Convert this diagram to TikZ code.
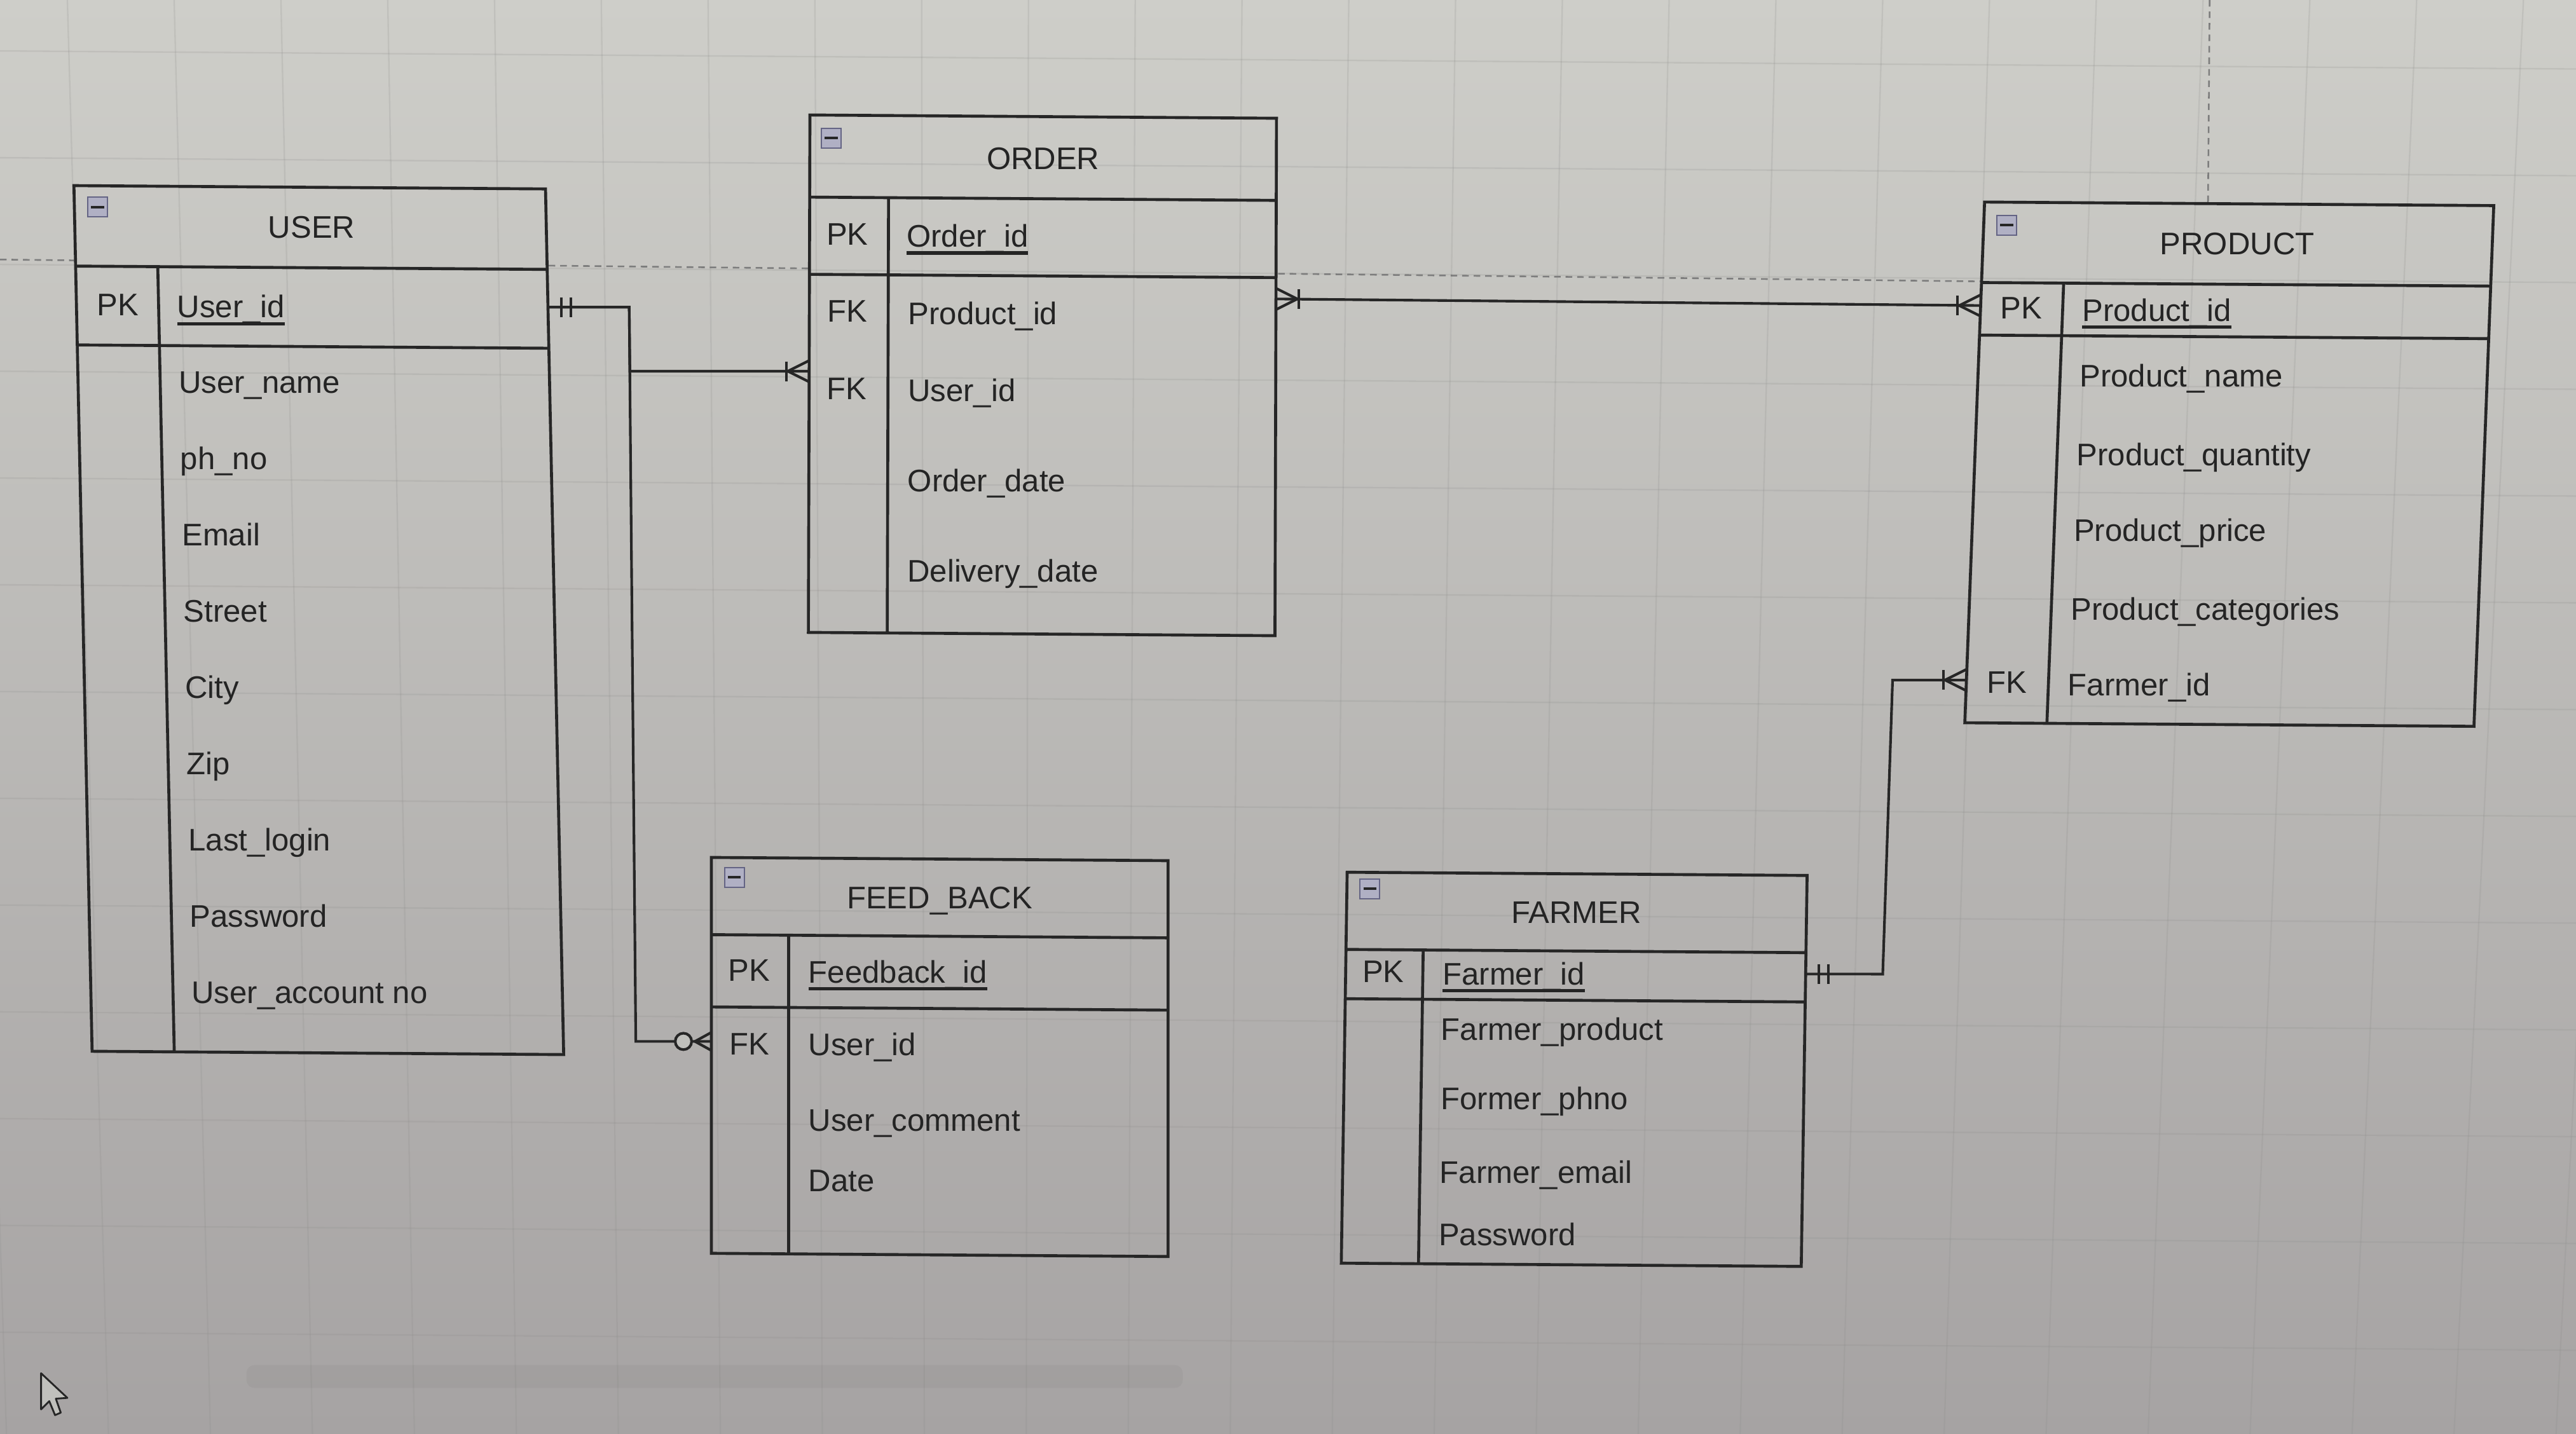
\documentclass[tikz,border=0pt]{standalone}
\usepackage{fontspec}
\setmainfont{Liberation Sans}
\usetikzlibrary{calc}

\definecolor{bgtop}{RGB}{206,206,201}
\definecolor{bgmid}{RGB}{192,192,188}
\definecolor{bgbot}{RGB}{166,163,163}
\definecolor{linec}{RGB}{38,38,38}
\definecolor{txtc}{RGB}{36,36,36}
\definecolor{gridc}{RGB}{140,140,138}
\definecolor{pagec}{RGB}{125,125,125}
\definecolor{iconedge}{RGB}{100,100,132}
\definecolor{iconfill}{RGB}{176,176,196}

\newcommand\fieldfont{\fontsize{19}{23}\selectfont}
% primary-key name: text with a rule just under the baseline
\newcommand\keyname[1]{\setbox0\hbox{#1}\rlap{\vrule width\wd0 height -2.6pt depth 4.6pt}\box0}

\tikzset{
  tbl/.style={draw=linec, line width=1.8pt},
  conn/.style={draw=linec, line width=1.6pt},
  attr/.style={anchor=base west, inner sep=0pt, text=txtc, font=\fieldfont},
  keyc/.style={anchor=base, inner sep=0pt, text=txtc, font=\fieldfont},
  ttl/.style={anchor=base, inner sep=0pt, text=txtc, font=\fieldfont},
  gridline/.style={draw=gridc, opacity=0.2, line width=0.9pt},
  pageline/.style={draw=pagec, line width=1pt, dash pattern=on 4pt off 3pt},
  % collapse box in the table header
  tblicon/.pic={
    \draw[draw=iconedge, fill=iconfill, line width=0.8pt] (-6,-6) rectangle (6,6);
    \draw[draw=linec, line width=1.5pt] (-4,0) -- (4,0);
  },
  % one-or-many end; the entity lies on the +x side
  manyone/.pic={
    \draw[conn] (-13,0) -- (0,-6.5) (-13,0) -- (0,6.5);
    \draw[conn] (-14,-6) -- (-14,6);
  },
  % zero-or-many end; the entity lies on the +x side
  zeromany/.pic={
    \draw[conn] (-10,0) -- (0,-5.5) (-10,0) -- (0,5.5);
    \draw[conn, fill=bgmid] (-17,0) circle (5);
  },
  % exactly-one end; the entity lies on the -x side
  oneone/.pic={
    \draw[conn] (8,-6) -- (8,6) (14,-6) -- (14,6);
  }
}

\begin{document}
\begin{tikzpicture}[x=1pt,y=-1pt]
\useasboundingbox (0,0) rectangle (1568,873);

% canvas background and grid
\shade[top color=bgtop, middle color=bgmid, bottom color=bgbot] (0,0) rectangle (1568,873);
\foreach \gx in {-24,41,...,1640}
  \draw[gridline] (\gx,0) -- ({\gx-0.045*(\gx-597)},873);
\foreach \gy in {31,96,...,900}
  \draw[gridline] (0,\gy) -- (1568,\gy+11);

% page break guides
\draw[pageline] (0,158) -- (45,158.5);
\draw[pageline] (334,161.7) -- (492,163.4);
\draw[pageline] (778,166.6) -- (1206,171.3);
\draw[pageline] (1345,0) -- (1344,123);

% scroll bar
\fill[black, opacity=0.035, rounded corners=5pt] (150,831) rectangle (720,845);

% ---------------- USER ----------------
\begin{scope}[shift={(45,113)}, xslant=-0.021, yslant=-0.007]
  \draw[tbl] (0,0) rectangle (287,527);
  \draw[tbl] (0,49) -- (287,49) (0,97) -- (287,97) (50,49) -- (50,527);
  \pic at (14,13) {tblicon};
  \node[ttl] (user-title) at (144,31) {USER};
  \node[keyc] (user-pk) at (25,79) {PK};
  \node[attr] (user-id) at (61,80) {\keyname{User\_id}};
  \foreach \t [count=\i] in {User\_name, ph\_no, Email, Street, City, Zip, Last\_login, Password, User\_account no}
    \node[attr] (user-a\i) at (61,{126+46.4*(\i-1)}) {\t};
  \coordinate (user-pk-e) at (287,72);
\end{scope}

% ---------------- ORDER ----------------
\begin{scope}[shift={(493,70)}, xslant=0.003, yslant=-0.007]
  \draw[tbl] (0,0) rectangle (284,315);
  \draw[tbl] (0,50) -- (284,50) (0,97) -- (284,97) (48,50) -- (48,315);
  \pic at (13,14) {tblicon};
  \node[ttl] (order-title) at (142,32) {ORDER};
  \node[keyc] (order-pk) at (23,79) {PK};
  \node[attr] (order-id) at (59,80) {\keyname{Order\_id}};
  \node[keyc] (order-fk1) at (23,126) {FK};
  \node[attr] (order-prod) at (60,127) {Product\_id};
  \node[keyc] (order-fk2) at (23,173) {FK};
  \node[attr] (order-user) at (60,174) {User\_id};
  \node[attr] (order-date) at (60,229) {Order\_date};
  \node[attr] (order-deliv) at (60,284) {Delivery\_date};
  \coordinate (order-fk2-w) at (0,156);
  \coordinate (order-fk1-e) at (284,110);
\end{scope}

% ---------------- PRODUCT ----------------
\begin{scope}[shift={(1208,123)}, xslant=0.038, yslant=-0.007]
  \draw[tbl] (0,0) rectangle (310,317);
  \draw[tbl] (0,49) -- (310,49) (0,81) -- (310,81) (50,49) -- (50,317);
  \pic at (14,14) {tblicon};
  \node[ttl] (product-title) at (155,31) {PRODUCT};
  \node[keyc] (product-pk) at (25,71) {PK};
  \node[attr] (product-id) at (62,72) {\keyname{Product\_id}};
  \node[attr] (product-name) at (62,112) {Product\_name};
  \node[attr] (product-qty) at (62,160) {Product\_quantity};
  \node[attr] (product-price) at (62,206) {Product\_price};
  \node[attr] (product-cat) at (62,254) {Product\_categories};
  \node[keyc] (product-fk) at (25,299) {FK};
  \node[attr] (product-farmer) at (62,300) {Farmer\_id};
  \coordinate (product-pk-w) at (0,63);
  \coordinate (product-fk-w) at (0,291);
\end{scope}

% ---------------- FEED_BACK ----------------
\begin{scope}[shift={(433,522)}, yslant=-0.007]
  \draw[tbl] (0,0) rectangle (278,241);
  \draw[tbl] (0,47) -- (278,47) (0,91) -- (278,91) (47,47) -- (47,241);
  \pic at (14,12) {tblicon};
  \node[ttl] (feedback-title) at (139,30) {FEED\_BACK};
  \node[keyc] (feedback-pk) at (23,75) {PK};
  \node[attr] (feedback-id) at (59,76) {\keyname{Feedback\_id}};
  \node[keyc] (feedback-fk) at (23,120) {FK};
  \node[attr] (feedback-user) at (59,120) {User\_id};
  \node[attr] (feedback-comment) at (59,166) {User\_comment};
  \node[attr] (feedback-date) at (59,203) {Date};
  \coordinate (feedback-fk-w) at (0,112);
\end{scope}

% ---------------- FARMER ----------------
\begin{scope}[shift={(820,531)}, xslant=0.015, yslant=-0.007]
  \draw[tbl] (0,0) rectangle (280,238);
  \draw[tbl] (0,47) -- (280,47) (0,77) -- (280,77) (47,47) -- (47,238);
  \pic at (14,10) {tblicon};
  \node[ttl] (farmer-title) at (140,30) {FARMER};
  \node[keyc] (farmer-pk) at (23,67) {PK};
  \node[attr] (farmer-id) at (59,68) {\keyname{Farmer\_id}};
  \node[attr] (farmer-product) at (58.5,102) {Farmer\_product};
  \node[attr] (farmer-phno) at (59,144) {Former\_phno};
  \node[attr] (farmer-email) at (59,189) {Farmer\_email};
  \node[attr] (farmer-pass) at (59,227) {Password};
  \coordinate (farmer-pk-e) at (280,60);
\end{scope}

% ---------------- relationships ----------------
\coordinate (busA) at (383,187);
\coordinate (busC) at (383.4,226);
\coordinate (busB) at (387,634);
\coordinate (busD) at (1146,593);
\coordinate (busE) at (1152,414);

\draw[conn] (user-pk-e) -- (busA) -- (busB) -- (feedback-fk-w);
\draw[conn] (busA) -- (busC) -- (order-fk2-w);
\draw[conn] (order-fk1-e) -- (product-pk-w);
\draw[conn] (farmer-pk-e) -- (busD) -- (busE) -- (product-fk-w);

\pic at (user-pk-e) {oneone};
\pic at (farmer-pk-e) {oneone};
\pic at (order-fk2-w) {manyone};
\pic at (product-pk-w) {manyone};
\pic at (product-fk-w) {manyone};
\pic[xscale=-1] at (order-fk1-e) {manyone};
\pic at (feedback-fk-w) {zeromany};

% mouse pointer
\draw[linec, line width=1.1pt, line join=round, fill=bgmid]
  (25,836) -- (25,858) -- (30,853) -- (33.5,861.5) -- (37,860) -- (34,851.5) -- (41,851) -- cycle;
\end{tikzpicture}
\end{document}
